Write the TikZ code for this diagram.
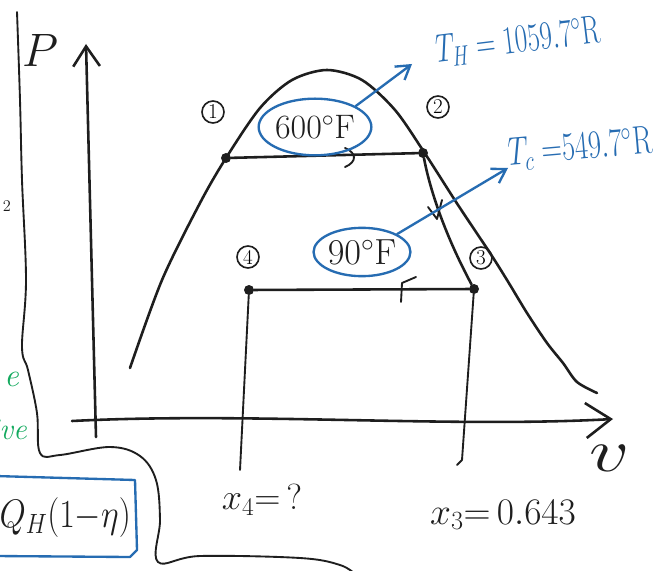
\RequirePackage{fix-cm}
\documentclass[tikz,border=0pt]{standalone}
\usepackage{graphicx}
\usetikzlibrary{arrows.meta,shapes.geometric}
\definecolor{ink}{RGB}{30,30,30}
\definecolor{penblue}{RGB}{38,108,178}
\definecolor{pengreen}{RGB}{20,170,95}
\begin{document}
\begin{tikzpicture}[x=0.03cm,y=-0.03cm,
  pen/.style={draw=ink,line width=2.2pt,line cap=round,line join=round},
  thinpen/.style={draw=ink,line width=1.6pt,line cap=round,line join=round},
  bluepen/.style={draw=penblue,line width=2pt,line cap=round,line join=round},
  dot/.style={circle,fill=ink,inner sep=0pt,minimum size=0.3cm},
  circled/.style={circle,draw=ink,line width=1.4pt,inner sep=0pt,minimum size=0.66cm,font=\fontsize{18}{18}\selectfont},
  templabel/.style={ellipse,draw=penblue,line width=2pt,inner sep=0pt,text=ink},
  bluetxt/.style={text=penblue,font=\fontsize{34}{34}\selectfont,inner sep=0pt},
  inktxt/.style={text=ink,inner sep=0pt},
  bluetip/.style={-{Straight Barb[length=0.4cm,width=0.5cm]}}]

\useasboundingbox (0,0) rectangle (654,571);
\clip (0,0) rectangle (654,571);
\fill[white] (0,0) rectangle (654,571);

% page border
\draw[thinpen] plot[smooth,tension=0.6] coordinates {(17,12) (20,100) (22,180) (26,280) (22,347) (28,370) (37,413) (40,453) (60,455) (110,447) (140,456) (156,480) (160,520) (158,562) (200,556) (300,558) (340,565) (356,575)};

% Q_H box
\draw[bluepen] (-5,476) -- (135,480) -- (137,550) -- (130,557) -- (-5,556);
\node[inktxt,anchor=east,font=\fontsize{34}{34}\selectfont] (qh) at (131,518) {\scalebox{0.85}[1]{$Q_H(1{-}\eta)$}};

% fragments at the left edge
\node[text=pengreen,anchor=east,inner sep=0pt,font=\fontsize{28}{28}\selectfont\itshape] (g1) at (19,379) {e};
\node[text=pengreen,anchor=east,inner sep=0pt,font=\fontsize{26}{26}\selectfont\itshape] (g2) at (27,430) {tive};
\node[inktxt,font=\fontsize{14}{14}\selectfont] (m2) at (7,206) {2};

% axes
\coordinate (P0) at (96,437);
\coordinate (P1) at (86,44);
\draw[pen,-{Straight Barb[length=0.6cm,width=0.8cm]}] (P0) -- (P1);
\coordinate (v0) at (72,421);
\coordinate (v1) at (613,419);
\draw[pen,-{Straight Barb[length=0.75cm,width=1.05cm]}] (v0) .. controls (250,412) and (450,428) .. (v1);
\node[inktxt,font=\fontsize{40}{40}\selectfont] (Plab) at (40,50) {$P$};
\node[inktxt,font=\fontsize{52}{52}\selectfont] (vlab) at (610,458) {\scalebox{1.3}[1]{$v$}};

% saturation dome
\draw[pen] plot[smooth] coordinates {(130,368) (162,280) (200,203) (226,158) (260,108) (292,80) (327,70) (362,80) (395,110) (424,152) (458,205) (490,253) (507,280) (527,313) (547,343) (563,363) (577,382) (597,393)};

% states
\node[dot] (s1) at (226,158) {};
\node[dot] (s2) at (423,153) {};
\node[dot] (s3) at (474,289) {};
\node[dot] (s4) at (249,290) {};

\draw[pen] (s1) -- (s2);
\draw[pen] (s2) .. controls (430,190) and (445,235) .. (s3);
\draw[pen] (s3) -- (s4);
\coordinate (b4) at (240,470);
\draw[thinpen] (s4) -- (b4);
\coordinate (b3) at (462,460);
\coordinate (b3h) at (457,465);
\draw[thinpen] (s3) -- (b3) -- (b3h);

% direction marks
\draw[thinpen] (345,148) .. controls (357,153) and (357,162) .. (345,167);
\draw[thinpen] (428,207) -- (437,219) -- (442,200);
\draw[thinpen] (401,302) -- (402,283) -- (416,277);

% state numbers
\node[circled] (c1) at (213,112) {1};
\node[circled] (c2) at (438,107) {2};
\node[circled] (c3) at (481,258) {3};
\node[circled] (c4) at (248,257) {4};

% temperatures
\node[templabel,minimum width=3.2cm,minimum height=1.7cm,font=\fontsize{29}{29}\selectfont] (tH) at (315,127) {$600^\circ\mathrm{F}$};
\node[templabel,minimum width=2.9cm,minimum height=1.45cm,font=\fontsize{31}{31}\selectfont] (tC) at (362,252) {$90^\circ\mathrm{F}$};

\node[bluetxt,rotate=7] (TH) at (518,42) {\scalebox{0.68}[1]{$T_H = 1059.7^\circ\mathrm{R}$}};
\node[bluetxt,rotate=5,anchor=west] (TC) at (508,155) {\scalebox{0.72}[1]{$T_c\;{=}549.7^\circ\mathrm{R}$}};

\coordinate (aH) at (412,64);
\draw[bluepen,bluetip] (tH.north east) -- (aH);
\coordinate (aC) at (508,168);
\draw[bluepen,bluetip] (tC.north east) -- (aC);

% qualities
\node[inktxt,font=\fontsize{31}{31}\selectfont] (x4) at (262,500) {$x_4{=}\,?$};
\node[inktxt,font=\fontsize{32}{32}\selectfont] (x3) at (503,515) {$x_3{=}\,0.643$};
\end{tikzpicture}
\end{document}
